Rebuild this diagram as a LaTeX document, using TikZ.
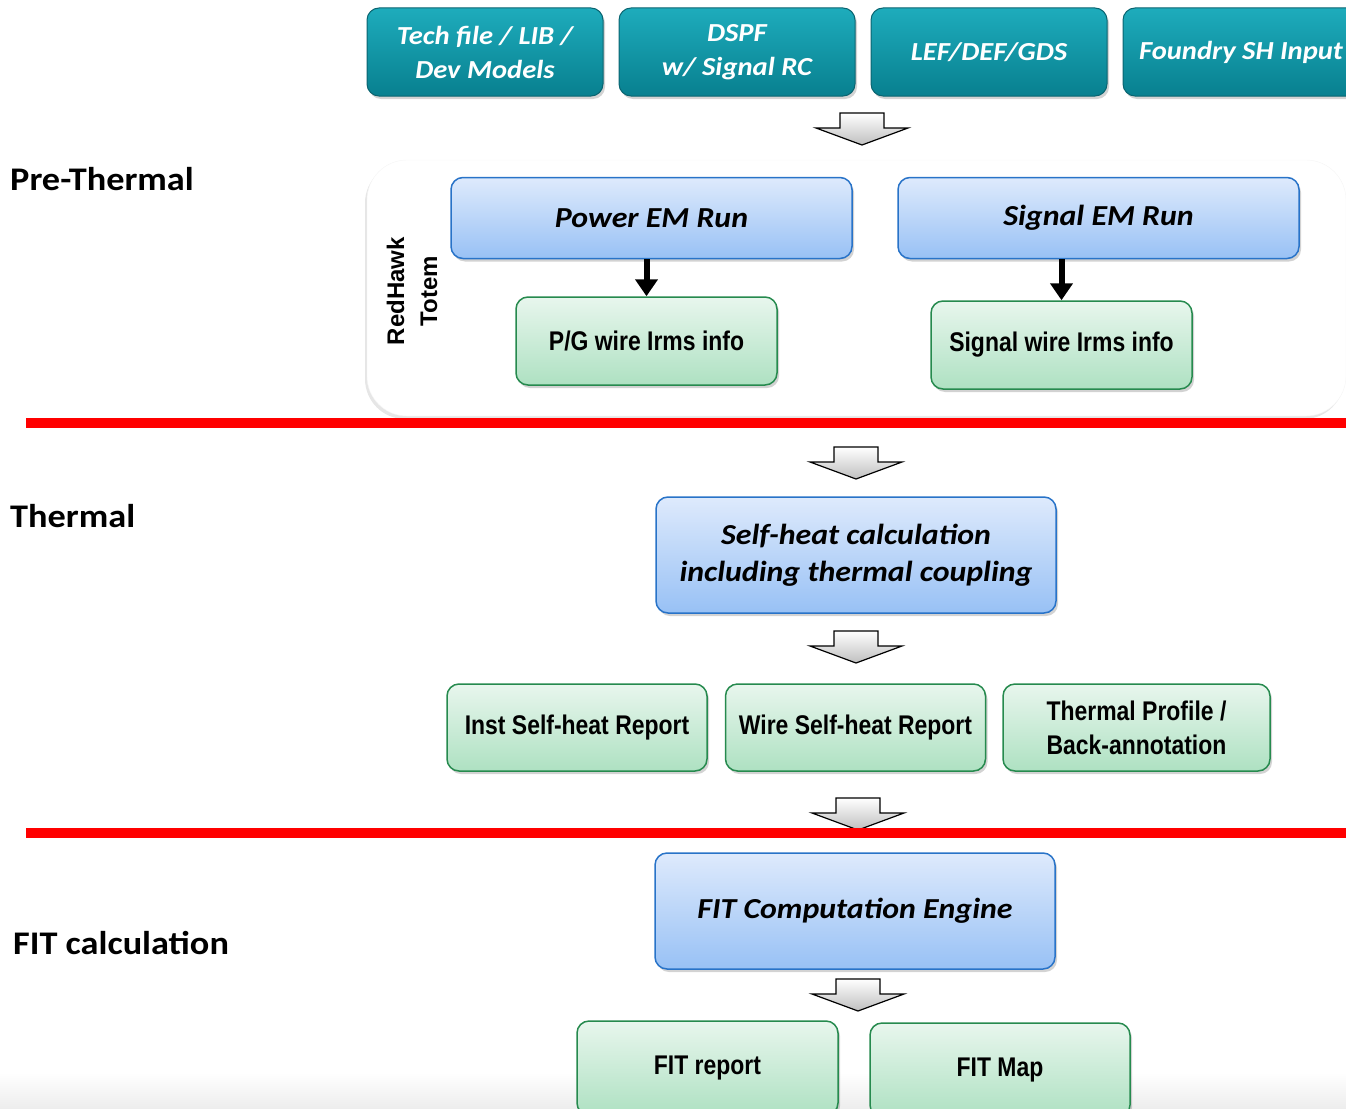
\documentclass[tikz,border=0pt]{standalone}
\usepackage{fontspec}
\setmainfont[FakeStretch=1.1]{Carlito}
\newfontfamily\narrowsf[FakeStretch=0.85]{Liberation Sans}
\newfontfamily\arialsf{Liberation Sans}
\usetikzlibrary{arrows.meta,positioning,shadows}

\definecolor{tealtop}{RGB}{30,172,188}
\definecolor{tealbot}{RGB}{8,128,143}
\definecolor{tealedge}{RGB}{10,100,112}
\definecolor{bluetop}{RGB}{222,234,252}
\definecolor{bluebot}{RGB}{152,193,245}
\definecolor{blueedge}{RGB}{40,115,200}
\definecolor{greentop}{RGB}{232,246,237}
\definecolor{greenbot}{RGB}{174,225,194}
\definecolor{greenedge}{RGB}{38,138,78}
\definecolor{rulered}{RGB}{255,0,0}

\begin{document}
\begin{tikzpicture}[x=1pt,y=-1pt,>=Stealth,node distance=15pt and 15pt,
  boxshadow/.style={drop shadow={opacity=0.35,shadow xshift=2pt,shadow yshift=-3pt}},
  inbox/.style={draw=tealedge,line width=1pt,rounded corners=12pt,top color=tealtop,bottom color=tealbot,
    text=white,font=\fontsize{26}{34}\selectfont\bfseries\itshape,align=center,
    minimum width=236pt,minimum height=88pt,inner sep=0pt,boxshadow},
  runbox/.style={draw=blueedge,line width=1.5pt,rounded corners=12pt,top color=bluetop,bottom color=bluebot,
    font=\fontsize{29}{37}\selectfont\bfseries\itshape,align=center,inner sep=0pt,boxshadow},
  outbox/.style={draw=greenedge,line width=1.5pt,rounded corners=12pt,top color=greentop,bottom color=greenbot,
    font=\narrowsf\fontsize{27}{34}\selectfont\bfseries,align=center,inner sep=0pt,boxshadow},
  seclabel/.style={font=\fontsize{33}{38}\selectfont\bfseries,anchor=base west,inner sep=0pt},
  toollabel/.style={font=\arialsf\fontsize{24}{33}\selectfont\bfseries,align=center,rotate=90,inner sep=0pt},
  panel/.style={fill=white,draw=gray!8,rounded corners=40pt,
    drop shadow={opacity=0.2,shadow xshift=-2pt,shadow yshift=-3pt}},
  redrule/.style={draw=rulered,line width=10pt},
  blkarrow/.style={line width=6pt,-{Triangle[width=22pt,length=17pt]}},
  fatdown/.pic={
    \draw[line width=1.2pt,line join=miter,top color=white,bottom color=gray!50]
      (-22,0) -- (22,0) -- (22,15) -- (46,15) -- (0,32) -- (-46,15) -- (-22,15) -- cycle;
  }]
  \useasboundingbox (0,0) rectangle (1346,1108);
  \clip (0,0) rectangle (1346,1108);

  % page fade at the bottom
  \shade[top color=white,bottom color=gray!14] (0,1072) rectangle (1346,1108);

  % inputs
  \node[inbox] (tech) at (485,52) {Tech file / LIB /\\Dev Models};
  \node[inbox,right=of tech] (dspf) {DSPF\\w/ Signal RC};
  \node[inbox,right=of dspf] (lef) {LEF/DEF/GDS};
  \node[inbox,right=of lef] (fsh) {Foundry SH Input};

  \pic at (862,113) {fatdown};

  % pre-thermal
  \node[seclabel] (prelbl) at (10,190) {Pre-Thermal};
  \node[panel,minimum width=979pt,minimum height=256pt] (pre) at (856.5,288) {};
  \node[toollabel] (tool) at (412,291) {RedHawk\\Totem};

  \node[runbox,minimum width=401pt,minimum height=81pt] (pem) at (651.5,218) {Power EM Run};
  \node[runbox,minimum width=401pt,minimum height=81pt] (sem) at (1098.5,218) {Signal EM Run};
  \node[outbox,minimum width=261pt,minimum height=88pt] (pgw) at (646.5,341) {P/G wire Irms info};
  \node[outbox,minimum width=261pt,minimum height=88pt] (sgw) at (1061.5,345) {Signal wire Irms info};

  \draw[blkarrow] (pem.south -| pgw) -- (pgw.north);
  \draw[blkarrow] (sem.south -| sgw) -- (sgw.north);

  \draw[redrule] (26,423) -- (1346,423);

  % thermal
  \pic at (856,447) {fatdown};
  \node[seclabel] (thlbl) at (10,527) {Thermal};
  \node[runbox,minimum width=400pt,minimum height=116pt] (shc) at (856,555)
    {Self-heat calculation\\including thermal coupling};

  \pic at (856,631) {fatdown};
  \node[outbox,minimum width=260pt,minimum height=87pt] (inst) at (577,727.5) {Inst Self-heat Report};
  \node[outbox,minimum width=260pt,minimum height=87pt,right=17pt of inst] (wire) {Wire Self-heat Report};
  \node[outbox,minimum width=267pt,minimum height=87pt,right=16pt of wire] (tprof) {Thermal Profile /\\Back-annotation};

  \pic at (858,798) {fatdown};
  \draw[redrule] (26,833) -- (1346,833);

  % fit
  \node[seclabel] (fitlbl) at (13,954) {FIT calculation};
  \node[runbox,minimum width=400pt,minimum height=116pt] (fit) at (855,911) {FIT Computation Engine};

  \pic at (858,979) {fatdown};
  \node[outbox,minimum width=261pt,minimum height=94pt] (frep) at (707.5,1068) {FIT report};
  \node[outbox,minimum width=260pt,minimum height=94pt] (fmap) at (1000,1070) {FIT Map};
\end{tikzpicture}
\end{document}
